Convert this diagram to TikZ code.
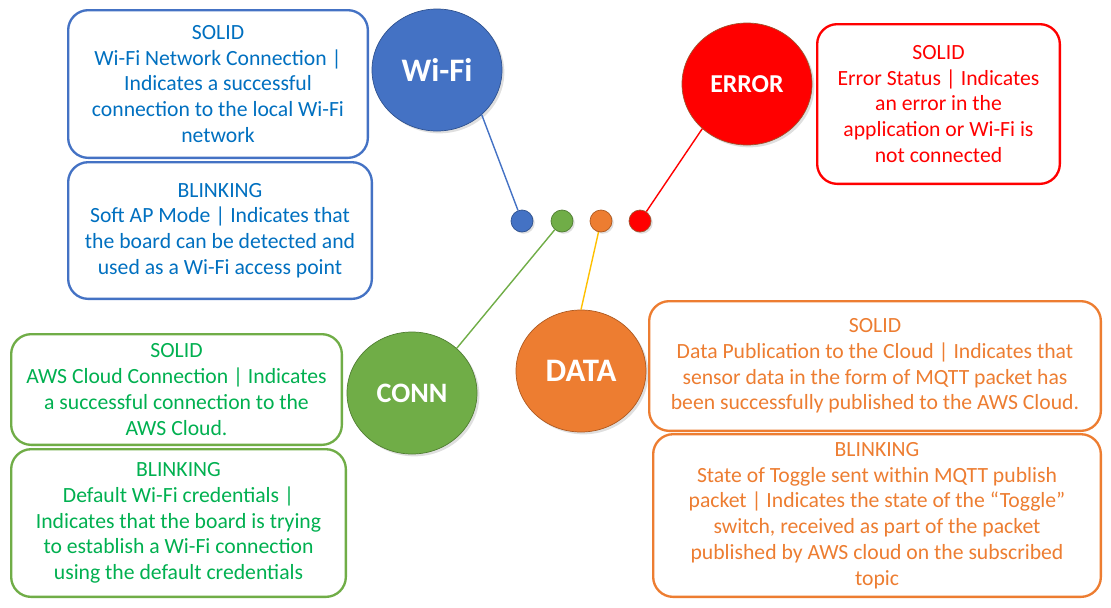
\documentclass[tikz,border=0pt]{standalone}
\usepackage{fontspec}
\setmainfont{Carlito}
\usetikzlibrary{positioning,shapes.geometric,shadows}
\definecolor{wifiblue}{HTML}{4472C4}
\definecolor{wifidark}{HTML}{2F528F}
\definecolor{wifitext}{HTML}{0070C0}
\definecolor{conngreen}{HTML}{70AD47}
\definecolor{conndark}{HTML}{507E32}
\definecolor{conntext}{HTML}{00B050}
\definecolor{dataorange}{HTML}{ED7D31}
\definecolor{datadark}{HTML}{AE5A21}
\definecolor{datayellow}{HTML}{FFC000}
\definecolor{errorred}{HTML}{FF0000}
\definecolor{errordark}{HTML}{A0522D}
\tikzset{%
  % Specifications for style of the description boxes:
            base/.style = {rectangle, rounded corners=0.6cm, line width=2pt,
                           fill=white, inner sep=0pt, align=center,
                           font=\fontsize{18.5}{22}\selectfont},
		wifibox/.style = {base, draw=wifiblue, text=wifitext},
		connbox/.style = {base, draw=conngreen, text=conntext},
		databox/.style = {base, draw=dataorange, text=dataorange},
		errorbox/.style = {base, draw=errorred, text=errorred},
  % Specifications for style of the leds:
            ledbase/.style = {ellipse, minimum width=3.9cm, minimum height=3.66cm,
                           inner sep=0pt, line width=0.6pt, text=white,
                           drop shadow={opacity=0.25, shadow xshift=2pt, shadow yshift=-2pt}},
            leddot/.style = {circle, minimum size=0.66cm, inner sep=0pt, line width=0.6pt,
                           drop shadow={opacity=0.25, shadow xshift=1.5pt, shadow yshift=-1.5pt}},
            ledline/.style = {line width=1.2pt},
}

\begin{document}
\begin{tikzpicture}[x=0.03cm, y=-0.03cm]
  \useasboundingbox (0,0) rectangle (1111,607);
  % Specification of leds (position, etc.)
  \node (wifi)  [ledbase, fill=wifiblue, draw=wifidark,
                 font=\fontsize{28}{30}\bfseries\selectfont]    at (437,70)  {Wi-Fi};
  \node (error) [ledbase, fill=errorred, draw=errordark,
                 font=\fontsize{22}{24}\bfseries\selectfont]    at (747,84)  {ERROR};
  \node (conn)  [ledbase, fill=conngreen, draw=conndark,
                 font=\fontsize{24}{26}\bfseries\selectfont]    at (412,393) {CONN};
  \node (data)  [ledbase, fill=dataorange, draw=datadark,
                 font=\fontsize{28}{30}\bfseries\selectfont]    at (581,371) {DATA};

  \node (dwifi)  [leddot, fill=wifiblue, draw=wifidark]     at (522,221) {};
  \node (dconn)  [leddot, fill=conngreen, draw=conndark]    at (562,221) {};
  \node (ddata)  [leddot, fill=dataorange, draw=datadark]   at (601,221) {};
  \node (derror) [leddot, fill=errorred, draw=errordark]    at (640,221) {};

  % Specification of description boxes
  \node (wifisolid) [wifibox, anchor=north west, minimum width=8.99cm, minimum height=4.43cm]
        at (67,9) {SOLID\\Wi-Fi Network Connection |\\Indicates a successful\\connection to the local Wi-Fi\\network};
  \node (wifiblink) [wifibox, below=0.06cm of wifisolid.south west, anchor=north west,
                     minimum width=9.11cm, minimum height=4.1cm]
        {BLINKING\\Soft AP Mode | Indicates that\\the board can be detected and\\used as a Wi-Fi access point};
  \node (errorsolid) [errorbox, anchor=north west, minimum width=7.28cm, minimum height=4.79cm]
        at (816,23) {SOLID\\Error Status | Indicates\\an error in the\\application or Wi-Fi is\\not connected};
  \node (connsolid) [connbox, anchor=north west, minimum width=9.92cm, minimum height=3.32cm]
        at (10,333) {SOLID\\AWS Cloud Connection | Indicates\\a successful connection to the\\AWS Cloud.};
  \node (connblink) [connbox, below=0.06cm of connsolid.south west, anchor=north west,
                     minimum width=10.04cm, minimum height=4.43cm]
        {BLINKING\\Default Wi-Fi credentials |\\Indicates that the board is trying\\to establish a Wi-Fi connection\\using the default credentials};
  \node (datasolid) [databox, anchor=north west, minimum width=13.55cm, minimum height=3.89cm]
        at (648,300) {SOLID\\Data Publication to the Cloud | Indicates that\\sensor data in the form of MQTT packet has\\been successfully published to the AWS Cloud.};
  \node (datablink) [databox, below=0.03cm of datasolid.south east, anchor=north east,
                     minimum width=13.43cm, minimum height=4.88cm]
        {BLINKING\\State of Toggle sent within MQTT publish\\packet | Indicates the state of the “Toggle”\\switch, received as part of the packet\\published by AWS cloud on the subscribed\\topic};

  % Lines from the leds to their labels
  \draw[ledline, wifiblue]   (wifi.-45)   -- (dwifi);
  \draw[ledline, errorred]   (error.225)  -- (derror);
  \draw[ledline, conngreen]  (conn.45)    -- (dconn);
  \draw[ledline, datayellow] (data.north) -- (ddata);
\end{tikzpicture}
\end{document}
